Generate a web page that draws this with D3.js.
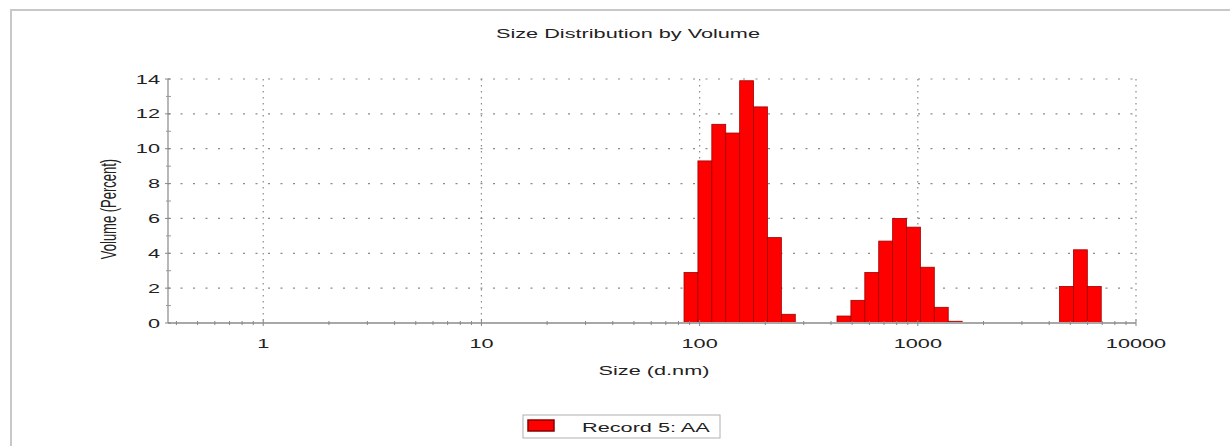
<!DOCTYPE html>
<html>
<head>
<meta charset="utf-8">
<script src="https://cdn.jsdelivr.net/npm/d3@7/dist/d3.min.js"></script>
<style>
  html, body { margin: 0; padding: 0; background: #fff; }
  svg { display: block; }
  text { font-family: "Liberation Sans", Arial, sans-serif; fill: #222; }
</style>
</head>
<body>
<svg id="chart" width="1230" height="446"></svg>
<script>
// Size classes (d.nm) with non-zero volume, and the volume percentage per class
const sizeClasses = [91.28, 105.7, 122.4, 141.8, 164.2, 190.1, 220.2, 255.0,
                     458.7, 531.2, 615.1, 712.4, 825.0, 955.4, 1106, 1281, 1484,
                     4801, 5560, 6439];
const volumePercent = [2.9, 9.3, 11.4, 10.9, 13.9, 12.4, 4.9, 0.5,
                       0.4, 1.3, 2.9, 4.7, 6.0, 5.5, 3.2, 0.9, 0.1,
                       2.1, 4.2, 2.1];
const xTickValues = [1, 10, 100, 1000, 10000];
const yTickValues = [0, 2, 4, 6, 8, 10, 12, 14];
const yMinorTicks = [1, 3, 5, 7, 9, 11, 13];
const titleText = "Size Distribution by Volume";
const xAxisTitle = "Size (d.nm)";
const yAxisTitle = "Volume (Percent)";
const legendLabel = "Record 5: AA";

// 70 log-spaced classes from 0.4 to 10000 nm: ratio between neighbouring classes
const classRatio = Math.pow(10000 / 0.4, 1 / 69);
const halfStep = Math.sqrt(classRatio);

const data = sizeClasses.map((s, i) => ({ size: s, value: volumePercent[i] }));

const svg = d3.select("#chart");
const plot = { left: 168, right: 1136, top: 79, bottom: 323 };
const sx = 1.67; // horizontal stretch applied to the lettering

const x = d3.scaleLog().domain([0.366, 10000]).range([plot.left, plot.right]);
const y = d3.scaleLinear().domain([0, 14]).range([plot.bottom, plot.top]);

// Outer frame
svg.append("rect")
  .attr("x", 11).attr("y", 10).attr("width", 1260).attr("height", 480)
  .attr("fill", "#fff").attr("stroke", "#c8c8c8").attr("stroke-width", 2);

// Stretched text helper
function label(g, txt, px, py, anchor, size, rotate) {
  const t = g.append("g")
    .attr("transform", `translate(${px},${py}) scale(${sx},1)` + (rotate ? " rotate(-90)" : ""))
    .append("text")
    .attr("text-anchor", anchor)
    .style("font-size", size + "px")
    .text(txt);
  return t;
}

// Gridlines
const grid = svg.append("g");
grid.selectAll("line.h").data(yTickValues.filter(v => v > 0)).join("line")
  .attr("x1", plot.left).attr("x2", plot.right)
  .attr("y1", d => y(d)).attr("y2", d => y(d))
  .attr("stroke", "#8a8a8a").attr("stroke-width", 1.2)
  .attr("stroke-dasharray", "2,10.5");
grid.selectAll("line.v").data(xTickValues).join("line")
  .attr("x1", d => x(d)).attr("x2", d => x(d))
  .attr("y1", plot.top).attr("y2", plot.bottom)
  .attr("stroke", "#8a8a8a").attr("stroke-width", 1.2)
  .attr("stroke-dasharray", "1.5,4.5");

// Bars
svg.append("g").selectAll("rect").data(data).join("rect")
  .attr("x", d => x(d.size / halfStep))
  .attr("width", d => x(d.size * halfStep) - x(d.size / halfStep))
  .attr("y", d => y(d.value))
  .attr("height", d => y(0) - y(d.value))
  .attr("fill", "#ff0000")
  .attr("stroke", "#a00000").attr("stroke-width", 0.8);

// Axes lines
svg.append("line")
  .attr("x1", plot.left).attr("x2", plot.right)
  .attr("y1", plot.bottom).attr("y2", plot.bottom)
  .attr("stroke", "#a8a8a8").attr("stroke-width", 2);
svg.append("line")
  .attr("x1", plot.left).attr("x2", plot.left)
  .attr("y1", plot.top).attr("y2", plot.bottom)
  .attr("stroke", "#888").attr("stroke-width", 1.2);

// Y ticks
svg.append("g").selectAll("line").data(yTickValues).join("line")
  .attr("x1", plot.left - 3).attr("x2", plot.left + 3)
  .attr("y1", d => y(d)).attr("y2", d => y(d))
  .attr("stroke", "#888");
svg.append("g").selectAll("line").data(yMinorTicks).join("line")
  .attr("x1", plot.left - 2).attr("x2", plot.left + 3)
  .attr("y1", d => y(d)).attr("y2", d => y(d))
  .attr("stroke", "#999");

// X minor ticks (2..9 in each decade)
const xMinor = [];
[0.1, 1, 10, 100, 1000].forEach(dec => {
  for (let k = 2; k <= 9; k++) {
    const v = dec * k;
    if (v >= x.domain()[0] && v <= 10000) xMinor.push(v);
  }
});
svg.append("g").selectAll("line").data(xMinor).join("line")
  .attr("x1", d => x(d)).attr("x2", d => x(d))
  .attr("y1", plot.bottom - 2).attr("y2", plot.bottom + 2)
  .attr("stroke", "#888");
svg.append("g").selectAll("line").data(xTickValues).join("line")
  .attr("x1", d => x(d)).attr("x2", d => x(d))
  .attr("y1", plot.bottom - 3).attr("y2", plot.bottom + 3)
  .attr("stroke", "#888");

// Tick labels
const labels = svg.append("g");
yTickValues.forEach(v => {
  label(labels, String(v), plot.left - 8, y(v) + 4.5, "end", 13);
});
xTickValues.forEach(v => {
  label(labels, String(v), x(v), 348, "middle", 13);
});

// Titles
label(svg, titleText, 628, 38, "middle", 13);
label(svg, xAxisTitle, 654, 375, "middle", 13);
label(svg, yAxisTitle, 116, 209, "middle", 13, true);

// Legend
const lg = svg.append("g");
lg.append("rect")
  .attr("x", 523).attr("y", 415).attr("width", 197).attr("height", 23)
  .attr("fill", "#fff").attr("stroke", "#b0b0b0").attr("stroke-width", 1);
lg.append("rect")
  .attr("x", 528).attr("y", 420).attr("width", 26).attr("height", 11)
  .attr("fill", "#ff0000").attr("stroke", "#8b0000").attr("stroke-width", 1.5);
label(lg, legendLabel, 582, 431.5, "start", 13);
</script>
</body>
</html>
